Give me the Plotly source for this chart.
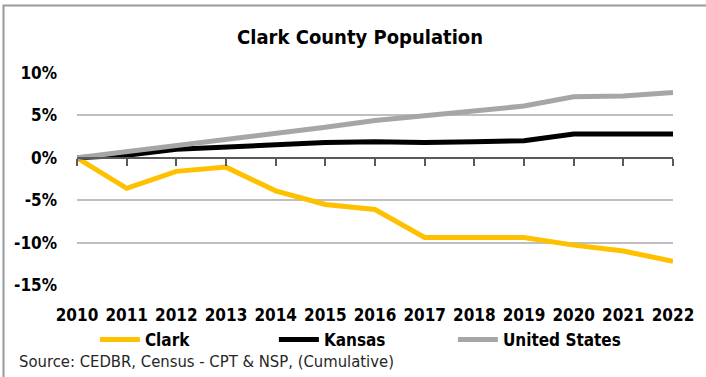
import plotly.graph_objects as go

years = [2010, 2011, 2012, 2013, 2014, 2015, 2016, 2017, 2018, 2019, 2020, 2021, 2022]
clark = [0.0, -3.6, -1.6, -1.1, -3.9, -5.5, -6.1, -9.4, -9.4, -9.4, -10.3, -11.0, -12.2]
kansas = [0.0, 0.3, 1.0, 1.3, 1.5, 1.8, 1.9, 1.8, 1.9, 2.0, 2.8, 2.8, 2.8]
usa = [0.0, 0.7, 1.5, 2.2, 2.9, 3.6, 4.4, 5.0, 5.6, 6.1, 7.2, 7.3, 7.7]
yticks = [10, 5, 0, -5, -10, -15]
ytext = ["<b>10%</b>", "<b>5%</b>", "<b>0%</b>", "<b>-5%</b>", "<b>-10%</b>", "<b>-15%</b>"]

FONT = "DejaVu Sans Condensed, Liberation Sans, Arial, sans-serif"

fig = go.Figure()
fig.add_trace(go.Scatter(x=years, y=clark, mode="lines", name="<b>Clark</b>",
                         line=dict(color="#FFC000", width=5)))
fig.add_trace(go.Scatter(x=years, y=kansas, mode="lines", name="<b>Kansas</b>",
                         line=dict(color="#000000", width=5)))
fig.add_trace(go.Scatter(x=years, y=usa, mode="lines", name="<b>United States</b>",
                         line=dict(color="#A6A6A6", width=5)))
# invisible trace on the zero-crossing axis (for tick marks)
fig.add_trace(go.Scatter(x=years, y=[0]*len(years), mode="lines", xaxis="x2",
                         line=dict(width=0), showlegend=False, hoverinfo="skip"))

fig.update_layout(
    width=706, height=377,
    margin=dict(l=77, r=33, t=73, b=92, autoexpand=False),
    paper_bgcolor="white", plot_bgcolor="white",
    font=dict(family=FONT, color="black"),
    title=dict(text="<b>Clark County Population</b>", x=0.51, xanchor="center",
               y=0.902, yanchor="middle", font=dict(size=20, family=FONT)),
    xaxis=dict(range=[2010, 2022], tickvals=years, ticktext=["<b>%d</b>" % y for y in years],
               showgrid=False, zeroline=False, showline=False, ticks="",
               tickfont=dict(size=17, family=FONT), ticklabelstandoff=18),
    xaxis2=dict(range=[2010, 2022], tickvals=years, overlaying="x", anchor="free",
                position=0.6, showgrid=False, zeroline=False, showline=True,
                linecolor="#595959", linewidth=1.5, ticks="outside", ticklen=7,
                tickcolor="#595959", tickwidth=1.5, showticklabels=False),
    yaxis=dict(range=[-15, 10], tickvals=yticks, ticktext=ytext,
               showgrid=True, gridcolor="#BFBFBF", gridwidth=1.5, zeroline=False,
               showline=False, tickfont=dict(size=17, family=FONT), ticklabelstandoff=19),
    showlegend=True,
    legend=dict(orientation="h", x=0.03, xanchor="left", y=-0.259, yanchor="middle",
                font=dict(size=17, family=FONT), entrywidth=124, entrywidthmode="pixels",
                tracegroupgap=0, itemwidth=40),
    annotations=[dict(text="Source: CEDBR, Census - CPT & NSP, (Cumulative)",
                      xref="paper", yref="paper", x=-0.1007, y=-0.363,
                      xanchor="left", yanchor="middle", showarrow=False,
                      font=dict(size=16.5, family=FONT, color="#262626"))],
    shapes=[dict(type="rect", xref="paper", yref="paper", x0=-0.1233, x1=1.2,
                 y0=-0.6, y1=1.318, line=dict(color="#9A9A9A", width=2),
                 fillcolor="rgba(0,0,0,0)", layer="below")],
)

fig.write_html("out.html", config={"displayModeBar": False},
               post_script="document.body.style.margin='0';")
